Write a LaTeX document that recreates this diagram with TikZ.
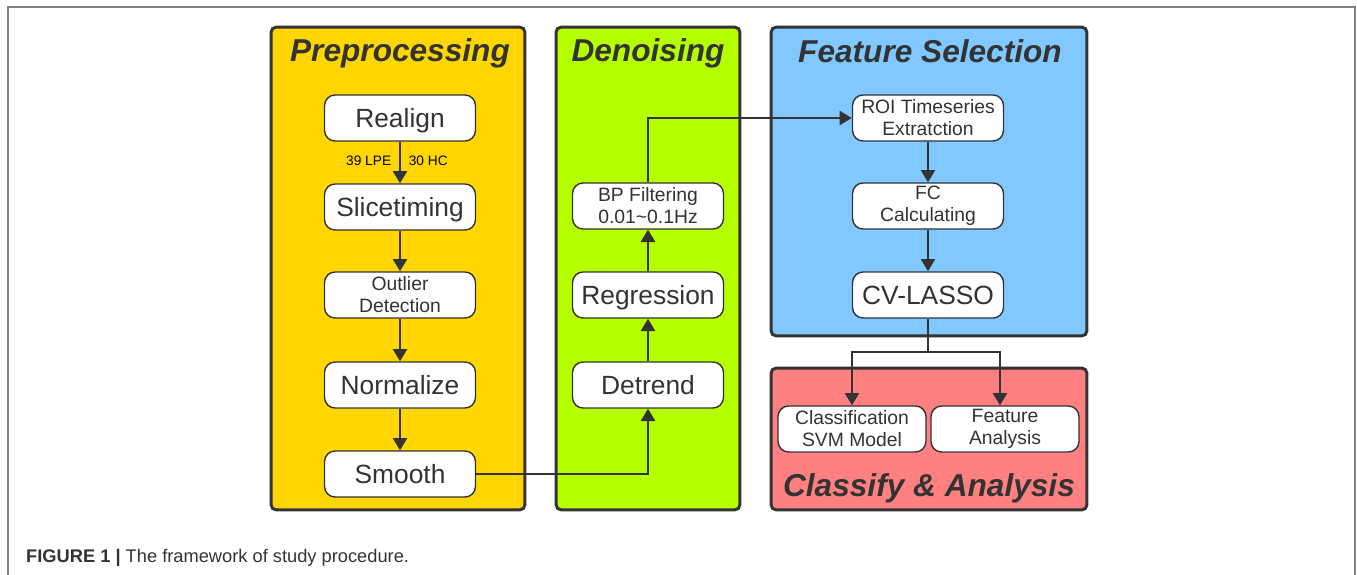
\documentclass[tikz,border=0pt]{standalone}
\usepackage{fontspec}
\setmainfont{Liberation Sans}
\usetikzlibrary{arrows.meta,positioning}

\definecolor{ink}{RGB}{51,51,51}
\definecolor{prepyellow}{RGB}{255,214,0}
\definecolor{denoisegreen}{RGB}{182,255,0}
\definecolor{featblue}{RGB}{128,200,255}
\definecolor{classred}{RGB}{255,128,128}

\begin{document}
\begin{tikzpicture}[x=0.02cm, y=-0.02cm,
    stagebox/.style={draw=ink, line width=1.7pt, rounded corners=3pt},
    stepbox/.style={draw=ink, fill=white, line width=0.8pt, rounded corners=6pt,
        minimum width=3.02cm, minimum height=0.92cm, align=center, text=ink,
        inner sep=1pt},
    bigtxt/.style={font=\fontsize{15}{17}\selectfont, text height=10.7pt, text depth=0pt},
    smalltxt/.style={font=\fontsize{11}{12.5}\selectfont},
    headtxt/.style={font=\fontsize{18}{20}\selectfont\bfseries\itshape, text=ink, anchor=base},
    arr/.style={draw=ink, line width=1.4pt, -{Triangle[length=7pt,width=8pt]}},
    link/.style={draw=ink, line width=1.4pt}]

    \useasboundingbox (0,0) rectangle (1357,575);
    \draw[gray, line width=0.6pt] (8,575) -- (8,7) -- (1355,7) -- (1355,575);

    % stages
    \node[stagebox, fill=prepyellow, minimum width=5.08cm, minimum height=9.66cm] (prep) at (398,268.5) {};
    \node[stagebox, fill=denoisegreen, minimum width=3.68cm, minimum height=9.66cm] (denoise) at (648,268.5) {};
    \node[stagebox, fill=featblue, minimum width=6.32cm, minimum height=6.18cm] (feat) at (929,181.5) {};
    \node[stagebox, fill=classred, minimum width=6.32cm, minimum height=2.84cm] (classify) at (929,439) {};

    \node[headtxt] (prephead) at (400,61) {Preprocessing};
    \node[headtxt] (denoisehead) at (648,61) {Denoising};
    \node[headtxt] (feathead) at (930,62) {Feature Selection};
    \node[headtxt] (classhead) at (929,496) {Classify \& Analysis};

    % preprocessing steps
    \node[stepbox, bigtxt] (realign) at (400,118) {Realign};
    \node[stepbox, bigtxt] (slice) at (400,207) {Slicetiming};
    \node[stepbox, smalltxt] (outlier) at (400,295) {Outlier\\Detection};
    \node[stepbox, bigtxt] (normalize) at (400,385) {Normalize};
    \node[stepbox, bigtxt] (smooth) at (400,474) {Smooth};

    % denoising steps
    \node[stepbox, bigtxt] (detrend) at (648,385) {Detrend};
    \node[stepbox, bigtxt] (regress) at (648,295) {Regression};
    \node[stepbox, smalltxt] (bpfilter) at (648,206) {BP Filtering\\0.01\textasciitilde 0.1Hz};

    % feature selection steps
    \node[stepbox, smalltxt] (roi) at (928,118) {ROI Timeseries\\Extratction};
    \node[stepbox, smalltxt] (fccalc) at (928,206) {FC\\Calculating};
    \node[stepbox, bigtxt] (lasso) at (928,295) {CV-LASSO};

    % classify & analysis steps
    \node[stepbox, smalltxt, minimum width=2.96cm] (svm) at (852,429) {Classification\\SVM Model};
    \node[stepbox, smalltxt, minimum width=2.96cm] (featan) at (1005,429) {Feature\\Analysis};

    % connectors
    \draw[arr] (realign) -- (slice)
        node[pos=0.45, left=1pt, font=\fontsize{7.8}{8}\selectfont] (lpe) {39 LPE}
        node[pos=0.45, right=1pt, font=\fontsize{7.8}{8}\selectfont] (hc) {30 HC};
    \draw[arr] (slice) -- (outlier);
    \draw[arr] (outlier) -- (normalize);
    \draw[arr] (normalize) -- (smooth);
    \draw[arr] (smooth.east) -| (detrend.south);
    \draw[arr] (detrend) -- (regress);
    \draw[arr] (regress) -- (bpfilter);
    \draw[arr] (bpfilter.north) |- (roi.west);
    \draw[arr] (roi) -- (fccalc);
    \draw[arr] (fccalc) -- (lasso);
    \coordinate (split) at (928,352);
    \draw[link] (lasso.south) -- (split);
    \draw[arr] (split) -| (svm.north);
    \draw[arr] (split) -| ([xshift=-0.1cm]featan.north);

    \node[anchor=west, text=ink, font=\fontsize{10.4}{12}\selectfont] (caption) at (20,558)
        {\textbf{FIGURE 1 |} The framework of study procedure.};
\end{tikzpicture}
\end{document}
